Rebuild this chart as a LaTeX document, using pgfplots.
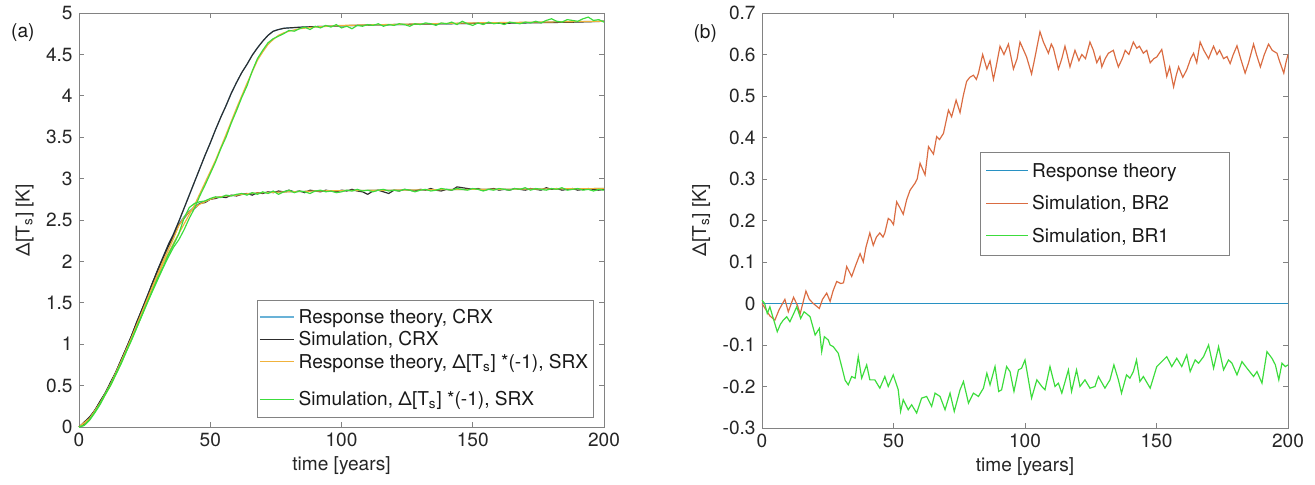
\documentclass[border=0pt]{standalone}
\usepackage{fontspec}
\setmainfont{TeX Gyre Heros}
\usepackage{pgfplots}
\pgfplotsset{compat=1.18}

\definecolor{rtblue}{RGB}{105,178,215}
\definecolor{simblack}{RGB}{45,45,45}
\definecolor{rtorange}{RGB}{240,178,60}
\definecolor{simgreen}{RGB}{60,220,60}
\definecolor{brzero}{RGB}{40,145,195}
\definecolor{brtwo}{RGB}{218,108,66}
\definecolor{axgray}{RGB}{130,130,130}

\pgfplotsset{
  matlab/.style={
    scale only axis,
    anchor=south west,
    clip=false,
    xmin=0, xmax=200,
    xtick={0,50,...,200},
    tick align=inside,
    major tick length=2.8pt,
    axis line style={draw=axgray},
    every tick/.style={draw=axgray},
    ticklabel style={text=black!85},
    /pgf/number format/assume math mode=true,
    scaled y ticks=false,
    xlabel={time [years]},
    ylabel={Δ[T\textsubscript{s}] [K]},
    label style={text=black!85},
    xlabel style={yshift=2pt},
    legend cell align=left,
    legend style={draw=axgray, fill=white, text=black!90,
      cells={anchor=base west}, nodes={anchor=base west}},
    every axis plot/.append style={line width=0.65pt},
  }
}

\begin{document}
\begin{tikzpicture}[font=\fontsize{10.5}{12.6}\selectfont]
\useasboundingbox (0,0) rectangle (723.25pt,266.75pt);

% ---- panel (a)
\begin{axis}[matlab,
  at={(43.45pt,31.9pt)}, width=288.75pt, height=227.7pt,
  ymin=0, ymax=5, ytick={0,0.5,...,5},
  legend image code/.code={\draw[#1] (0pt,3.6pt) -- (19pt,3.6pt);},
  legend style={at={(0.981,0.022)}, anchor=south east, row sep=-1pt,
    inner xsep=1pt, inner ysep=3pt},
]
% response theory CRX (hidden mostly)
\addplot[rtblue] coordinates {(0,0)(2,0.04)(4,0.11)(6,0.2)(8,0.3)(10,0.41)(12,0.53)(14,0.66)(16,0.8)(18,0.95)(20,1.1)(22,1.26)(24,1.42)(26,1.58)(28,1.74)(30,1.9)(32,2.05)(34,2.2)(36,2.33)(38,2.48)(40,2.64)(42,2.8)(44,2.96)(46,3.12)(48,3.28)(50,3.43)(52,3.59)(54,3.74)(56,3.88)(58,4.03)(60,4.16)(62,4.28)(64,4.38)(66,4.49)(68,4.58)(70,4.66)(72,4.73)(74,4.78)(76,4.8)(78,4.815)(80,4.82)(90,4.835)(100,4.845)(120,4.86)(150,4.875)(200,4.9)};
\addlegendentry{Response theory, CRX}
\addplot[rtblue, forget plot] coordinates {(0,0)(4,0.1)(8,0.29)(12,0.52)(16,0.79)(20,1.08)(24,1.39)(28,1.7)(32,2.0)(34,2.14)(36,2.28)(38,2.45)(40,2.54)(42,2.61)(44,2.66)(46,2.7)(48,2.73)(50,2.75)(52,2.77)(56,2.79)(60,2.8)(65,2.82)(70,2.83)(80,2.84)(90,2.85)(100,2.855)(150,2.87)(200,2.88)};
% simulation CRX
\addplot[simblack] coordinates {(0,0)(2,0.04)(4,0.11)(6,0.2)(8,0.3)(10,0.41)(12,0.53)(14,0.66)(16,0.8)(18,0.95)(20,1.1)(22,1.26)(24,1.42)(26,1.58)(28,1.74)(30,1.9)(32,2.05)(34,2.2)(36,2.33)(38,2.48)(40,2.64)(42,2.8)(44,2.96)(46,3.12)(48,3.28)(50,3.43)(52,3.59)(54,3.74)(56,3.88)(58,4.03)(60,4.16)(62,4.28)(64,4.38)(66,4.49)(68,4.58)(70,4.66)(72,4.73)(74,4.78)(76,4.8)(78,4.815)(80,4.82)(85,4.83)(90,4.835)(95,4.84)(100,4.845)(105,4.85)(110,4.855)(120,4.86)(130,4.865)(140,4.87)(150,4.875)(155,4.88)(160,4.875)(170,4.88)(180,4.885)(190,4.89)(200,4.9)};
\addlegendentry{Simulation, CRX}
\addplot[simblack, forget plot] coordinates {(0,0)(2,0.06)(4,0.12)(6,0.2)(8,0.31)(10,0.41)(12,0.54)(14,0.66)(16,0.81)(18,0.95)(20,1.1)(22,1.27)(24,1.42)(26,1.57)(28,1.74)(30,1.89)(32,2.04)(34,2.18)(36,2.30)(38,2.44)(40,2.52)(42,2.60)(44,2.64)(46,2.70)(48,2.71)(50,2.75)(52,2.76)(54,2.78)(56,2.77)(58,2.80)(60,2.79)(62,2.81)(64,2.82)(66,2.80)(68,2.83)(70,2.82)(72,2.84)(74,2.83)(76,2.85)(78,2.84)(80,2.86)(82,2.84)(84,2.85)(86,2.83)(88,2.86)(90,2.85)(92,2.84)(94,2.86)(96,2.85)(98,2.84)(100,2.86)(102,2.85)(104,2.87)(106,2.85)(108,2.84)(110,2.81)(112,2.85)(114,2.86)(116,2.84)(118,2.82)(120,2.86)(122,2.85)(124,2.87)(126,2.86)(128,2.85)(130,2.87)(132,2.86)(134,2.88)(136,2.86)(138,2.85)(140,2.87)(142,2.86)(144,2.90)(146,2.89)(148,2.88)(150,2.87)(152,2.88)(154,2.86)(156,2.87)(158,2.88)(160,2.86)(162,2.87)(164,2.86)(166,2.88)(168,2.87)(170,2.86)(172,2.88)(174,2.87)(176,2.86)(178,2.89)(180,2.87)(182,2.88)(184,2.86)(186,2.87)(188,2.88)(190,2.86)(192,2.87)(194,2.88)(196,2.87)(198,2.86)(200,2.87)};
% response theory SRX
\addplot[rtorange] coordinates {(0,0)(4,0.1)(8,0.28)(12,0.5)(16,0.77)(20,1.06)(24,1.36)(28,1.67)(32,1.97)(36,2.22)(40,2.45)(44,2.68)(48,2.95)(52,3.22)(56,3.53)(60,3.85)(64,4.15)(68,4.43)(70,4.53)(72,4.62)(74,4.68)(76,4.73)(78,4.76)(80,4.78)(84,4.81)(90,4.83)(100,4.85)(150,4.88)(200,4.9)};
\addlegendentry{Response theory, Δ[T\textsubscript{s}] *(-1), SRX}
\addplot[rtorange, forget plot] coordinates {(0,0)(4,0.1)(8,0.29)(12,0.52)(16,0.79)(20,1.08)(24,1.39)(28,1.7)(32,2.0)(34,2.14)(36,2.28)(38,2.43)(40,2.53)(42,2.6)(44,2.65)(46,2.69)(48,2.72)(50,2.75)(52,2.77)(56,2.79)(60,2.8)(65,2.82)(70,2.83)(80,2.84)(90,2.85)(100,2.855)(150,2.87)(200,2.88)};
% simulation SRX
\addplot[simgreen] coordinates {(0,0)(2,0.02)(4,0.09)(6,0.18)(8,0.28)(10,0.4)(12,0.51)(14,0.64)(16,0.77)(18,0.91)(20,1.05)(22,1.2)(24,1.35)(26,1.5)(28,1.64)(30,1.78)(32,1.92)(34,2.05)(36,2.17)(38,2.26)(40,2.38)(42,2.52)(44,2.64)(46,2.79)(48,2.92)(50,3.06)(52,3.2)(54,3.36)(56,3.5)(58,3.67)(60,3.82)(62,3.98)(64,4.12)(66,4.30)(68,4.45)(70,4.55)(72,4.64)(74,4.69)(76,4.72)(78,4.75)(80,4.79)(82,4.78)(84,4.81)(86,4.83)(88,4.80)(90,4.84)(92,4.82)(94,4.85)(96,4.83)(98,4.86)(100,4.82)(102,4.84)(104,4.81)(106,4.85)(108,4.84)(110,4.86)(112,4.85)(114,4.87)(116,4.84)(118,4.86)(120,4.85)(122,4.87)(124,4.86)(126,4.84)(128,4.87)(130,4.86)(132,4.88)(134,4.87)(136,4.85)(138,4.88)(140,4.87)(142,4.89)(144,4.86)(146,4.90)(148,4.87)(150,4.85)(152,4.88)(154,4.86)(156,4.89)(158,4.87)(160,4.88)(162,4.86)(164,4.89)(166,4.88)(168,4.87)(170,4.89)(172,4.88)(174,4.90)(176,4.88)(178,4.91)(180,4.93)(182,4.90)(184,4.89)(186,4.92)(188,4.91)(190,4.90)(192,4.93)(194,4.95)(196,4.91)(198,4.92)(200,4.89)};
\addlegendentry{\rule{0pt}{16pt}Simulation, Δ[T\textsubscript{s}] *(-1), SRX}
\addplot[simgreen, forget plot] coordinates {(0,0)(2,0.02)(4,0.08)(6,0.17)(8,0.27)(10,0.39)(12,0.5)(14,0.63)(16,0.76)(18,0.91)(20,1.05)(22,1.2)(24,1.35)(26,1.5)(28,1.65)(30,1.80)(32,1.93)(34,2.08)(36,2.20)(38,2.33)(40,2.52)(42,2.65)(44,2.70)(46,2.72)(48,2.73)(50,2.76)(52,2.78)(54,2.77)(56,2.80)(58,2.79)(60,2.81)(62,2.82)(64,2.80)(66,2.83)(68,2.81)(70,2.84)(72,2.82)(74,2.85)(76,2.81)(78,2.84)(80,2.86)(82,2.83)(84,2.85)(86,2.84)(88,2.82)(90,2.85)(92,2.86)(94,2.84)(96,2.85)(98,2.83)(100,2.84)(102,2.86)(104,2.85)(106,2.87)(108,2.85)(110,2.86)(112,2.84)(114,2.86)(116,2.87)(118,2.85)(120,2.86)(122,2.85)(124,2.87)(126,2.86)(128,2.84)(130,2.86)(132,2.87)(134,2.85)(136,2.86)(138,2.88)(140,2.87)(142,2.86)(144,2.88)(146,2.87)(148,2.86)(150,2.88)(152,2.87)(154,2.85)(156,2.87)(158,2.86)(160,2.88)(162,2.87)(164,2.86)(166,2.88)(168,2.87)(170,2.89)(172,2.86)(174,2.88)(176,2.87)(178,2.86)(180,2.88)(182,2.87)(184,2.89)(186,2.86)(188,2.87)(190,2.88)(192,2.86)(194,2.87)(196,2.85)(198,2.87)(200,2.86)};
\node[text=black!90] at (rel axis cs:-0.107,0.952) {(a)};
\end{axis}

% ---- panel (b)
\begin{axis}[matlab,
  at={(419.1pt,31.35pt)}, width=289.3pt, height=228.25pt,
  ymin=-0.3, ymax=0.7,
  ytick={-0.3,-0.2,-0.1,0,0.1,0.2,0.3,0.4,0.5,0.6,0.7},
  yticklabel style={/pgf/number format/fixed, /pgf/number format/precision=1},
  legend image code/.code={\draw[#1] (0pt,3.6pt) -- (23pt,3.6pt);},
  legend style={at={(0.414,0.665)}, anchor=north west, row sep=4.5pt, inner ysep=4pt},
]
\addplot[brzero] coordinates {(0,0)(200,0)};
\addlegendentry{Response theory\hspace*{24pt}\null}
\addplot[brtwo] coordinates {(0,0.0)(1.5,-0.015)(3,-0.03)(4.9,-0.04)(6.5,-0.015)(8.7,0.01)(10,-0.02)(12,0.015)(13.5,-0.005)(14.5,-0.025)(16.7,0.03)(18,0.01)(19.5,0.0)(21.8,-0.012)(23,0.01)(24.6,0.025)(25.9,0.005)(27,0.03)(28.4,0.053)(30,0.048)(31,0.05)(32.2,0.089)(34.1,0.065)(35.5,0.09)(37.3,0.12)(38.5,0.1)(39.5,0.135)(41,0.17)(42.3,0.14)(43.5,0.16)(44.8,0.17)(46,0.16)(46.7,0.17)(48,0.205)(49,0.2)(50,0.19)(51.2,0.245)(52.5,0.23)(53.7,0.215)(55,0.25)(56.3,0.273)(58.2,0.29)(59,0.3)(60.1,0.338)(62,0.31)(63.3,0.378)(65.2,0.36)(66.4,0.402)(67.5,0.395)(69,0.41)(70.9,0.466)(72.1,0.45)(73.8,0.49)(75.3,0.46)(76.5,0.5)(77.8,0.535)(79,0.545)(80.4,0.55)(81.5,0.54)(82.3,0.555)(83.9,0.6)(85.5,0.565)(86.7,0.585)(88,0.54)(89,0.57)(90.5,0.62)(92,0.6)(93.7,0.625)(95.6,0.565)(97,0.59)(98.1,0.63)(99.5,0.61)(100.6,0.594)(102.5,0.553)(104,0.6)(105.7,0.655)(107,0.63)(108.9,0.603)(110,0.625)(110.8,0.615)(112.7,0.565)(114,0.59)(115.2,0.62)(116,0.6)(117.1,0.57)(119,0.61)(120.5,0.585)(121.6,0.6)(123,0.59)(124.7,0.63)(126,0.61)(127.3,0.58)(128.5,0.595)(129.2,0.57)(130.5,0.59)(131.7,0.603)(133.6,0.61)(134.5,0.59)(135.5,0.57)(137,0.59)(138.1,0.61)(139.5,0.6)(141.2,0.63)(142.5,0.615)(143.5,0.62)(145,0.603)(146.3,0.61)(147.6,0.58)(149,0.59)(150.1,0.594)(152,0.612)(153,0.58)(153.9,0.547)(155,0.57)(156.5,0.522)(157.5,0.55)(158.4,0.57)(160,0.545)(161.5,0.563)(163,0.59)(164.1,0.603)(165.3,0.58)(166.6,0.63)(168,0.61)(169.8,0.59)(170.7,0.605)(171.7,0.62)(173,0.6)(174,0.61)(175.5,0.59)(176.8,0.595)(178,0.578)(179.2,0.6)(180.6,0.621)(182,0.59)(183.7,0.555)(185,0.58)(186.9,0.625)(188,0.6)(189.5,0.57)(191,0.6)(192.6,0.625)(194,0.61)(195.8,0.603)(197,0.58)(198.4,0.555)(199.2,0.58)(200,0.6)};
\addlegendentry{Simulation, BR2}
\addplot[simgreen] coordinates {(0,0.008)(1,0.0)(2,-0.024)(3,-0.008)(4,-0.03)(5.8,-0.068)(7,-0.05)(8.1,-0.04)(9.4,-0.032)(10.6,-0.044)(12,-0.025)(13.2,-0.008)(14.7,-0.036)(16,-0.02)(17,-0.025)(18.3,-0.032)(20.2,-0.076)(21.8,-0.06)(22.7,-0.116)(23.7,-0.08)(25.2,-0.088)(25.9,-0.1)(27.1,-0.104)(29,-0.12)(30.3,-0.152)(31.6,-0.185)(32.8,-0.196)(34.1,-0.176)(35.4,-0.18)(36.6,-0.128)(37.9,-0.18)(39.8,-0.148)(41,-0.184)(42.9,-0.184)(44.8,-0.204)(46.7,-0.176)(48,-0.2)(49.9,-0.172)(51.8,-0.208)(52.7,-0.26)(53.7,-0.232)(55.6,-0.256)(56.9,-0.244)(58.8,-0.264)(60.7,-0.228)(62.6,-0.224)(64.5,-0.248)(65.8,-0.216)(67.7,-0.224)(69.6,-0.256)(71.5,-0.216)(73.1,-0.26)(75.3,-0.208)(76.6,-0.188)(78.5,-0.24)(80.4,-0.216)(82.3,-0.224)(84.2,-0.204)(85.5,-0.168)(86.7,-0.196)(88.6,-0.152)(90,-0.212)(91.1,-0.208)(93,-0.152)(94.3,-0.164)(95.8,-0.212)(97.5,-0.16)(98.7,-0.156)(100,-0.136)(101.3,-0.184)(102.5,-0.228)(104.5,-0.184)(106.4,-0.2)(107.6,-0.208)(109.5,-0.152)(111.4,-0.2)(112.7,-0.192)(114,-0.216)(116.5,-0.16)(117.7,-0.212)(119.6,-0.16)(120.9,-0.2)(122.8,-0.184)(124.7,-0.204)(126.6,-0.2)(127.9,-0.176)(130.4,-0.204)(132.3,-0.184)(133.8,-0.148)(135.5,-0.184)(136.7,-0.216)(138.6,-0.172)(139.9,-0.18)(141.2,-0.164)(142.4,-0.136)(143.7,-0.188)(145,-0.176)(147.6,-0.204)(150.1,-0.152)(152,-0.14)(153.9,-0.128)(155.8,-0.152)(157.7,-0.132)(159.6,-0.152)(161.5,-0.124)(162.8,-0.164)(164.7,-0.136)(166,-0.144)(167.9,-0.128)(169.8,-0.1)(171.7,-0.156)(173.6,-0.104)(175.5,-0.16)(177.4,-0.136)(178.7,-0.144)(180.6,-0.172)(182.5,-0.14)(184.4,-0.156)(186.9,-0.176)(188.2,-0.164)(190.1,-0.192)(192,-0.116)(193.9,-0.132)(195.2,-0.148)(196.5,-0.184)(197.7,-0.144)(199,-0.152)(200,-0.148)};
\addlegendentry{Simulation, BR1}
\node[text=black!90] at (rel axis cs:-0.108,0.951) {(b)};
\end{axis}
\end{tikzpicture}
\end{document}
